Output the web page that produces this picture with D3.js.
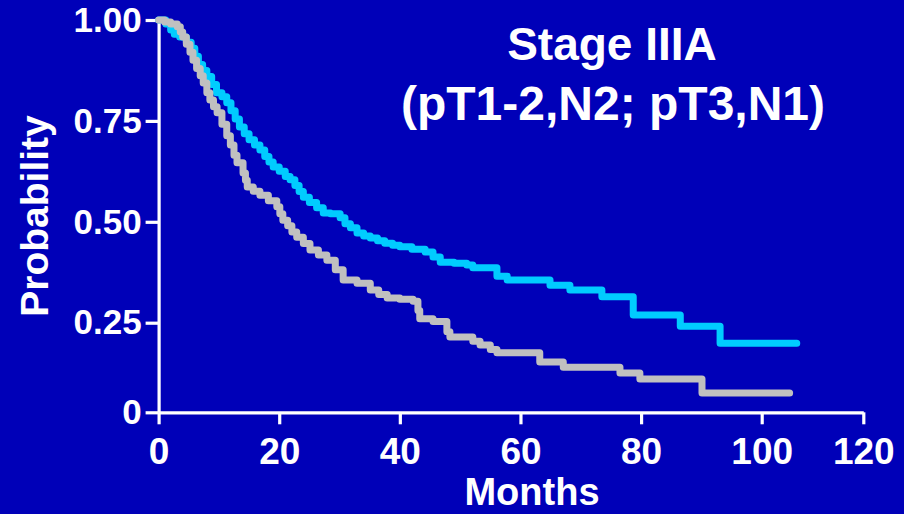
<!DOCTYPE html>
<html>
<head>
<meta charset="utf-8">
<script src="https://cdn.jsdelivr.net/npm/d3@7"></script>
<style>
  html, body { margin: 0; padding: 0; background: #0000b8; }
  svg { display: block; }
  text { font-family: "Liberation Sans", Arial, Helvetica, sans-serif; font-weight: bold; fill: #ffffff; }
</style>
</head>
<body>
<svg id="chart" width="904" height="514"></svg>
<script>
// ---- data ----
const titleLines = ["Stage IIIA", "(pT1-2,N2; pT3,N1)"];
const xLabel = "Months";
const yLabel = "Probability";
const xTicks = [0, 20, 40, 60, 80, 100, 120];
const yTicks = [0, 0.25, 0.5, 0.75, 1.0];
const yTickLabels = ["0", "0.25", "0.50", "0.75", "1.00"];

// Kaplan-Meier step curves: month, survival probability
const cyanMonths = [0, 1.2, 2.0, 2.6, 3.5, 4.6, 5.4, 6.0, 6.6, 7.3, 8.0, 8.8, 9.6, 10.5, 11.3, 12.0, 12.7, 13.4, 14.2, 15.0, 15.9, 16.8, 17.6, 18.3, 19.0, 20.0, 21.0, 21.8, 22.6, 23.3, 24.0, 25.0, 26.2, 27.3, 28.5, 30.1, 30.9, 31.8, 32.9, 34.0, 35.1, 36.3, 37.5, 38.8, 40.0, 42.0, 44.2, 45.5, 46.7, 49.0, 51.1, 52.1, 56.1, 57.8, 64.9, 68.2, 73.5, 78.7, 86.5, 93.1, 106.9];
const cyanSurv   = [1.0, 0.99, 0.975, 0.965, 0.958, 0.945, 0.93, 0.91, 0.89, 0.875, 0.86, 0.84, 0.82, 0.81, 0.795, 0.775, 0.755, 0.735, 0.718, 0.703, 0.69, 0.678, 0.662, 0.648, 0.636, 0.625, 0.612, 0.604, 0.59, 0.575, 0.561, 0.548, 0.535, 0.522, 0.52, 0.51, 0.495, 0.485, 0.472, 0.465, 0.46, 0.453, 0.447, 0.442, 0.438, 0.432, 0.425, 0.413, 0.40, 0.397, 0.393, 0.386, 0.365, 0.356, 0.343, 0.331, 0.314, 0.269, 0.240, 0.193, 0.193];

const grayMonths = [0, 1.0, 2.0, 3.1, 3.6, 4.0, 4.6, 5.2, 5.7, 6.3, 6.9, 7.4, 8.0, 8.5, 9.1, 9.7, 10.5, 11.3, 11.9, 12.5, 13.0, 14.0, 14.4, 14.7, 15.7, 16.8, 18.2, 19.6, 20.1, 20.6, 21.4, 22.1, 22.9, 24.0, 25.1, 26.5, 27.9, 29.3, 30.6, 32.9, 35.1, 36.5, 37.9, 40.0, 42.2, 43.0, 43.3, 45.5, 47.8, 48.3, 52.1, 53.3, 55.0, 56.1, 63.2, 67.1, 76.5, 79.8, 90.1, 105.5];
const graySurv   = [1.0, 0.995, 0.99, 0.983, 0.97, 0.958, 0.94, 0.92, 0.90, 0.88, 0.862, 0.844, 0.82, 0.802, 0.785, 0.77, 0.742, 0.713, 0.69, 0.665, 0.646, 0.621, 0.603, 0.586, 0.576, 0.566, 0.552, 0.537, 0.52, 0.504, 0.49, 0.475, 0.462, 0.446, 0.43, 0.418, 0.405, 0.381, 0.356, 0.348, 0.331, 0.32, 0.311, 0.308, 0.303, 0.28, 0.26, 0.253, 0.225, 0.21, 0.198, 0.188, 0.175, 0.166, 0.14, 0.126, 0.110, 0.093, 0.054, 0.054];

// ---- chart ----
const svg = d3.select("#chart");

const x = d3.scaleLinear().domain([0, 100, 120]).range([158.6, 761.7, 863.3]);
const y = d3.scaleLinear().domain([0, 0.25, 1]).range([412.3, 322.7, 20]);

// axes
const yAxis = svg.append("g")
  .attr("transform", "translate(158.6,0)")
  .call(d3.axisLeft(y).tickValues(yTicks)
    .tickFormat((d, i) => yTickLabels[i])
    .tickSize(13).tickSizeOuter(0).tickPadding(4));
const xAxis = svg.append("g")
  .attr("transform", "translate(0,412.3)")
  .call(d3.axisBottom(x).tickValues(xTicks)
    .tickFormat(d3.format("d"))
    .tickSize(12).tickSizeOuter(0).tickPadding(13));

[yAxis, xAxis].forEach(g => {
  g.select(".domain").attr("stroke", "#ffffff").attr("stroke-width", 3.2);
  g.selectAll(".tick line").attr("stroke", "#ffffff").attr("stroke-width", 3.2);
  g.selectAll(".tick text").attr("fill", "#ffffff")
    .style("font-family", "'Liberation Sans', Arial, sans-serif")
    .style("font-weight", "bold");
});
yAxis.selectAll(".tick text").style("font-size", "35px");
xAxis.selectAll(".tick text").style("font-size", "37px");

// curves
const line = d3.line()
  .x(d => x(d[0]))
  .y(d => y(d[1]))
  .curve(d3.curveStepAfter);

const cyanData = cyanMonths.map((m, i) => [m, cyanSurv[i]]);
const grayData = grayMonths.map((m, i) => [m, graySurv[i]]);

svg.append("path").datum(cyanData)
  .attr("d", line)
  .attr("fill", "none")
  .attr("stroke", "#00ccff")
  .attr("stroke-width", 7)
  .attr("stroke-linejoin", "round")
  .attr("stroke-linecap", "round");

svg.append("path").datum(grayData)
  .attr("d", line)
  .attr("fill", "none")
  .attr("stroke", "#c0c0c0")
  .attr("stroke-width", 7)
  .attr("stroke-linejoin", "round")
  .attr("stroke-linecap", "round");

// title
svg.append("text")
  .attr("x", 612).attr("y", 60)
  .attr("text-anchor", "middle")
  .style("font-size", "46px")
  .text(titleLines[0]);
svg.append("text")
  .attr("x", 613).attr("y", 120)
  .attr("text-anchor", "middle")
  .style("font-size", "48px")
  .text(titleLines[1]);

// axis titles
svg.append("text")
  .attr("x", 532).attr("y", 505)
  .attr("text-anchor", "middle")
  .style("font-size", "38px")
  .text(xLabel);
svg.append("text")
  .attr("transform", "translate(48,216) rotate(-90)")
  .attr("text-anchor", "middle")
  .style("font-size", "39px")
  .text(yLabel);
</script>
</body>
</html>
